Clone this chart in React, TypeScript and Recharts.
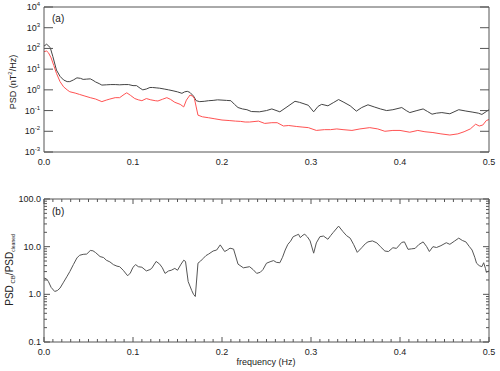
import { LineChart, Line, XAxis, YAxis } from 'recharts';

const FONT = '"Liberation Sans", Arial, Helvetica, sans-serif';
const AXIS = '#555';
const TXT = '#222';

// panel (a): PSD, total field (black) and cleaned (red)
const fBlack = [0, 0.003, 0.007, 0.01, 0.014, 0.018, 0.022, 0.026, 0.029, 0.033, 0.037, 0.041, 0.044, 0.048, 0.052, 0.055, 0.058, 0.062, 0.065, 0.07, 0.075, 0.08, 0.085, 0.09, 0.095, 0.1, 0.104, 0.108, 0.111, 0.115, 0.119, 0.122, 0.126, 0.13, 0.135, 0.14, 0.145, 0.15, 0.155, 0.158, 0.161, 0.164, 0.168, 0.171, 0.175, 0.18, 0.185, 0.19, 0.195, 0.2, 0.205, 0.21, 0.214, 0.218, 0.223, 0.228, 0.233, 0.242, 0.25, 0.256, 0.265, 0.273, 0.282, 0.287, 0.291, 0.297, 0.303, 0.308, 0.312, 0.319, 0.325, 0.331, 0.337, 0.344, 0.351, 0.357, 0.364, 0.371, 0.378, 0.385, 0.392, 0.402, 0.407, 0.411, 0.419, 0.426, 0.431, 0.436, 0.441, 0.447, 0.456, 0.466, 0.474, 0.481, 0.488, 0.492, 0.497, 0.5];
const psdBlack = [130, 160, 110, 40, 9, 4.5, 3, 2.5, 2.5, 3.0, 3.8, 3.6, 3.2, 3.3, 3.4, 2.9, 2.4, 2.0, 1.7, 1.75, 1.8, 1.8, 1.75, 1.8, 1.8, 1.6, 1.6, 1.2, 1.0, 1.1, 1.3, 1.3, 1.25, 1.2, 1.1, 1.0, 0.9, 0.8, 0.68, 0.8, 0.85, 0.75, 0.5, 0.3, 0.27, 0.28, 0.3, 0.31, 0.33, 0.32, 0.31, 0.3, 0.2, 0.14, 0.12, 0.11, 0.09, 0.087, 0.1, 0.12, 0.087, 0.15, 0.28, 0.25, 0.22, 0.18, 0.087, 0.16, 0.2, 0.17, 0.24, 0.34, 0.25, 0.17, 0.094, 0.14, 0.19, 0.15, 0.12, 0.1, 0.11, 0.14, 0.1, 0.08, 0.1, 0.12, 0.09, 0.067, 0.075, 0.08, 0.07, 0.11, 0.095, 0.085, 0.075, 0.065, 0.09, 0.11];

const fRed = [0, 0.003, 0.005, 0.008, 0.011, 0.014, 0.018, 0.022, 0.026, 0.029, 0.035, 0.04, 0.046, 0.052, 0.058, 0.065, 0.07, 0.074, 0.08, 0.085, 0.09, 0.093, 0.097, 0.102, 0.106, 0.11, 0.115, 0.12, 0.125, 0.128, 0.133, 0.138, 0.142, 0.147, 0.153, 0.157, 0.16, 0.164, 0.167, 0.169, 0.171, 0.173, 0.178, 0.185, 0.192, 0.2, 0.208, 0.215, 0.221, 0.226, 0.231, 0.241, 0.248, 0.256, 0.262, 0.269, 0.275, 0.284, 0.29, 0.297, 0.306, 0.315, 0.322, 0.329, 0.336, 0.346, 0.355, 0.366, 0.375, 0.383, 0.392, 0.4, 0.411, 0.42, 0.428, 0.437, 0.446, 0.456, 0.465, 0.472, 0.479, 0.485, 0.489, 0.493, 0.497, 0.5];
const psdRed = [70, 75, 62, 35, 15, 6.3, 2.5, 1.4, 1.0, 0.81, 0.7, 0.6, 0.5, 0.42, 0.36, 0.27, 0.32, 0.36, 0.42, 0.42, 0.6, 0.72, 0.55, 0.38, 0.33, 0.3, 0.38, 0.33, 0.3, 0.29, 0.35, 0.42, 0.35, 0.25, 0.2, 0.15, 0.32, 0.56, 0.5, 0.38, 0.15, 0.06, 0.05, 0.045, 0.04, 0.035, 0.033, 0.031, 0.03, 0.028, 0.028, 0.031, 0.024, 0.026, 0.026, 0.018, 0.019, 0.017, 0.016, 0.015, 0.011, 0.012, 0.012, 0.013, 0.012, 0.011, 0.013, 0.015, 0.013, 0.01, 0.011, 0.011, 0.009, 0.011, 0.0095, 0.0087, 0.0075, 0.0066, 0.0075, 0.0095, 0.013, 0.022, 0.018, 0.02, 0.033, 0.037];

// panel (b): ratio PSD_CB / PSD_cleaned
const fRatio = [0, 0.003, 0.005, 0.008, 0.012, 0.015, 0.018, 0.022, 0.026, 0.029, 0.033, 0.037, 0.04, 0.044, 0.048, 0.052, 0.055, 0.058, 0.063, 0.067, 0.07, 0.074, 0.078, 0.082, 0.085, 0.089, 0.094, 0.097, 0.1, 0.103, 0.106, 0.11, 0.115, 0.119, 0.121, 0.126, 0.13, 0.133, 0.136, 0.14, 0.143, 0.147, 0.15, 0.154, 0.157, 0.159, 0.162, 0.166, 0.168, 0.17, 0.173, 0.176, 0.179, 0.182, 0.185, 0.19, 0.194, 0.198, 0.203, 0.206, 0.209, 0.213, 0.218, 0.224, 0.231, 0.235, 0.239, 0.243, 0.246, 0.25, 0.255, 0.258, 0.261, 0.265, 0.268, 0.271, 0.274, 0.277, 0.28, 0.284, 0.286, 0.288, 0.291, 0.293, 0.296, 0.299, 0.303, 0.306, 0.31, 0.314, 0.319, 0.322, 0.325, 0.331, 0.336, 0.34, 0.344, 0.348, 0.352, 0.357, 0.361, 0.364, 0.369, 0.374, 0.378, 0.383, 0.387, 0.392, 0.396, 0.402, 0.405, 0.409, 0.413, 0.417, 0.421, 0.426, 0.43, 0.433, 0.437, 0.441, 0.446, 0.452, 0.456, 0.461, 0.466, 0.47, 0.474, 0.478, 0.481, 0.484, 0.486, 0.489, 0.492, 0.494, 0.496, 0.497, 0.5];
const ratio = [2.2, 2.1, 1.85, 1.4, 1.15, 1.2, 1.35, 1.8, 2.4, 3.0, 4.2, 5.8, 6.6, 6.9, 7.0, 8.3, 8.2, 7.5, 6.2, 5.9, 5.2, 4.8, 4.2, 3.9, 3.8, 3.2, 2.45, 2.8, 3.7, 4.2, 3.8, 3.7, 3.1, 3.3, 3.5, 4.9, 4.3, 3.6, 2.75, 3.1, 3.2, 3.5, 3.2, 4.3, 5.2, 4.9, 1.85, 1.2, 1.0, 0.9, 4.5, 5.0, 5.7, 6.5, 7.0, 8.1, 8.5, 10.9, 7.9, 8.5, 9.3, 8.9, 4.3, 3.6, 3.8, 3.3, 2.75, 2.9, 3.3, 4.5, 4.9, 5.1, 4.7, 4.6, 6.0, 8.5, 11.2, 13, 16.2, 17.5, 18.2, 15.5, 17.5, 18.2, 16, 13.2, 7.3, 12, 16.2, 16.7, 14.3, 17, 19.9, 27, 20.6, 17, 15.1, 11, 7.6, 9.5, 11.5, 12.6, 13.2, 12, 10, 8.1, 7.9, 9.5, 9.2, 12.3, 12.6, 8.8, 9.0, 9.2, 11, 12.6, 10, 7.9, 10, 9.6, 10.5, 12.1, 11.2, 13, 15.1, 13.5, 12.6, 10, 8.5, 6, 4.5, 4.0, 3.8, 4.6, 3.5, 2.9, 3.1];

const xMajor = [0, 0.1, 0.2, 0.3, 0.4, 0.5];
const xMinorB = [0, 0.01, 0.02, 0.03, 0.04, 0.05, 0.06, 0.07, 0.08, 0.09, 0.1, 0.11, 0.12, 0.13, 0.14, 0.15, 0.16, 0.17, 0.18, 0.19, 0.2, 0.21, 0.22, 0.23, 0.24, 0.25, 0.26, 0.27, 0.28, 0.29, 0.3, 0.31, 0.32, 0.33, 0.34, 0.35, 0.36, 0.37, 0.38, 0.39, 0.4, 0.41, 0.42, 0.43, 0.44, 0.45, 0.46, 0.47, 0.48, 0.49, 0.5];
const yTicksA = [1e-3, 1e-2, 1e-1, 1, 10, 100, 1000, 10000];
const yMajorB = [0.1, 1, 10, 100];
const yMinorB = [0.2, 0.3, 0.4, 0.5, 0.6, 0.7, 0.8, 0.9, 2, 3, 4, 5, 6, 7, 8, 9, 20, 30, 40, 50, 60, 70, 80, 90];

const zip = (xs: number[], ys: number[]) => xs.map((f, i) => ({ f, v: ys[i] }));
const blackData = zip(fBlack, psdBlack);
const redData = zip(fRed, psdRed);
const ratioData = zip(fRatio, ratio);

const isMajor = (v: number) => xMajor.some(m => Math.abs(m - v) < 1e-6);
const isDecade = (v: number) => yMajorB.some(m => Math.abs(m - v) < 1e-9);

// tick renderers (ticks drawn inward, IDL style)
const AxisLeftA = ({ x, y, payload }: any) => {
  const e = Math.round(Math.log10(payload.value));
  return (
    <g>
      <line x1={x} x2={x + 9} y1={y} y2={y} stroke={AXIS} />
      <text x={x - 4} y={y + 3} textAnchor="end" fontSize={9} fontFamily={FONT} fill={TXT}>
        10<tspan dy={-4} fontSize={6}>{e}</tspan>
      </text>
    </g>
  );
};
const AxisRightA = ({ x, y }: any) => <line x1={x} x2={x - 9} y1={y} y2={y} stroke={AXIS} />;

const AxisLeftB = ({ x, y, payload }: any) => {
  const major = isDecade(payload.value);
  return (
    <g>
      <line x1={x} x2={x + (major ? 6 : 3)} y1={y} y2={y} stroke={AXIS} />
      {major && (
        <text x={x - 3} y={y + 3} textAnchor="end" fontSize={9} fontFamily={FONT} fill={TXT}>
          {payload.value.toFixed(1)}
        </text>
      )}
    </g>
  );
};
const AxisRightB = ({ x, y, payload }: any) => {
  const major = isDecade(payload.value);
  return <line x1={x} x2={x - (major ? 6 : 3)} y1={y} y2={y} stroke={AXIS} />;
};

const BottomA = ({ x, y, payload }: any) => (
  <text x={x} y={y + 13} textAnchor="middle" fontSize={9} fontFamily={FONT} fill={TXT}>
    {payload.value.toFixed(1)}
  </text>
);
const BottomB = ({ x, y, payload }: any) => {
  const major = isMajor(payload.value);
  return (
    <g>
      <line x1={x} x2={x} y1={y} y2={y - (major ? 5 : 3)} stroke={AXIS} />
      {major && (
        <text x={x} y={y + 13} textAnchor="middle" fontSize={9} fontFamily={FONT} fill={TXT}>
          {payload.value.toFixed(1)}
        </text>
      )}
    </g>
  );
};
const TopB = ({ x, y, payload }: any) => {
  const major = isMajor(payload.value);
  return <line x1={x} x2={x} y1={y} y2={y + (major ? 5 : 3)} stroke={AXIS} />;
};
const NoTick = () => <g />;

export default function App() {
  return (
    <div style={{ position: 'absolute', left: 0, top: 0, width: 500, height: 371, background: '#fff' }}>
      <div style={{ position: 'absolute', left: 0, top: 0 }}>
        <LineChart width={500} height={180} margin={{ top: 6, right: 10, bottom: 27, left: 0 }}>
          <XAxis xAxisId="x" type="number" dataKey="f" domain={[0, 0.5]} ticks={xMajor} allowDataOverflow
            height={1} tickSize={0} tickMargin={0} tickLine={false} tick={BottomA} interval={0}
            axisLine={{ stroke: AXIS }} />
          <XAxis xAxisId="xt" orientation="top" type="number" dataKey="f" domain={[0, 0.5]} ticks={xMajor}
            allowDataOverflow height={1} tickSize={0} tickMargin={0} tickLine={false} tick={NoTick} interval={0}
            axisLine={{ stroke: AXIS }} />
          <YAxis yAxisId="y" type="number" scale="log" domain={[1e-3, 1e4]} ticks={yTicksA} allowDataOverflow
            width={44} tickSize={0} tickMargin={0} tickLine={false} tick={AxisLeftA} interval={0}
            axisLine={{ stroke: AXIS }} />
          <YAxis yAxisId="yr" orientation="right" type="number" scale="log" domain={[1e-3, 1e4]} ticks={yTicksA}
            allowDataOverflow width={1} tickSize={0} tickMargin={0} tickLine={false} tick={AxisRightA} interval={0}
            axisLine={{ stroke: AXIS }} />
          <Line xAxisId="xt" yAxisId="yr" data={blackData} dataKey="v" type="linear" dot={false}
            stroke="#444" strokeWidth={1} isAnimationActive={false} />
          <Line xAxisId="x" yAxisId="y" data={redData} dataKey="v" type="linear" dot={false}
            stroke="#ff5252" strokeWidth={1} isAnimationActive={false} />
        </LineChart>
      </div>
      <div style={{ position: 'absolute', left: 0, top: 180 }}>
        <LineChart width={500} height={191} margin={{ top: 18, right: 10, bottom: 28, left: 0 }}>
          <XAxis xAxisId="x" type="number" dataKey="f" domain={[0, 0.5]} ticks={xMinorB} allowDataOverflow
            height={1} tickSize={0} tickMargin={0} tickLine={false} tick={BottomB} interval={0}
            axisLine={{ stroke: AXIS }} />
          <XAxis xAxisId="xt" orientation="top" type="number" dataKey="f" domain={[0, 0.5]} ticks={xMinorB}
            allowDataOverflow height={1} tickSize={0} tickMargin={0} tickLine={false} tick={TopB} interval={0}
            axisLine={{ stroke: AXIS }} />
          <YAxis yAxisId="y" type="number" scale="log" domain={[0.1, 100]} ticks={[...yMajorB, ...yMinorB]}
            allowDataOverflow width={44} tickSize={0} tickMargin={0} tickLine={false} tick={AxisLeftB}
            interval={0} axisLine={{ stroke: AXIS }} />
          <YAxis yAxisId="yr" orientation="right" type="number" scale="log" domain={[0.1, 100]}
            ticks={[...yMajorB, ...yMinorB]} allowDataOverflow width={1} tickSize={0} tickMargin={0}
            tickLine={false} tick={AxisRightB} interval={0} axisLine={{ stroke: AXIS }} />
          <Line xAxisId="x" yAxisId="y" data={ratioData} dataKey="v" type="linear" dot={false}
            stroke="#555" strokeWidth={1} isAnimationActive={false} />
          {/* invisible copy so the top/right frame axes are bound to a series */}
          <Line xAxisId="xt" yAxisId="yr" data={ratioData} dataKey="v" type="linear" dot={false}
            stroke="none" strokeWidth={0} isAnimationActive={false} />
        </LineChart>
      </div>
      <svg width={500} height={371} style={{ position: 'absolute', left: 0, top: 0, pointerEvents: 'none' }}>
        <text x={52} y={22} fontSize={10} fontFamily={FONT} fill={TXT}>(a)</text>
        <text x={52} y={215} fontSize={10} fontFamily={FONT} fill={TXT}>(b)</text>
        <text transform="translate(16,82) rotate(-90)" textAnchor="middle" fontSize={9} fontFamily={FONT} fill={TXT}>
          PSD (nT<tspan dy={-4} fontSize={6}>2</tspan><tspan dy={4}>/Hz)</tspan>
        </text>
        <text transform="translate(13,270) rotate(-90)" textAnchor="middle" fontSize={10} fontFamily={FONT} fill={TXT}>
          PSD<tspan dy={2} fontSize={6}> CB</tspan><tspan dy={-2}>/PSD</tspan><tspan dy={2} fontSize={5}>cleaned</tspan>
        </text>
        <text x={266} y={365} textAnchor="middle" fontSize={9} fontFamily={FONT} fill={TXT}>frequency (Hz)</text>
      </svg>
    </div>
  );
}
